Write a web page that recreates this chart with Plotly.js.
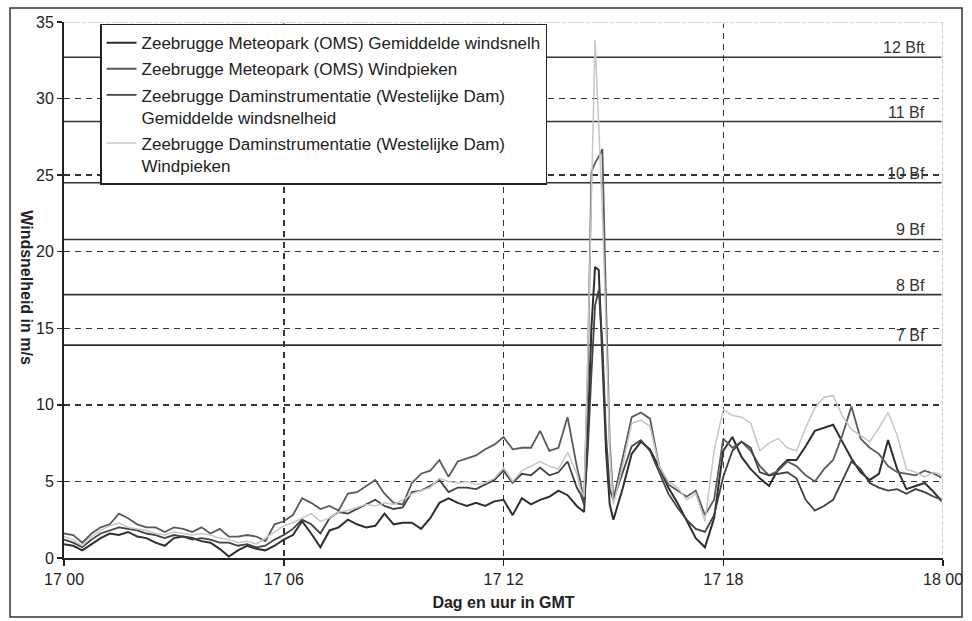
<!DOCTYPE html>
<html>
<head>
<meta charset="utf-8">
<script src="https://cdn.plot.ly/plotly-3.0.1.min.js"></script>
<style>
html,body{margin:0;padding:0;background:#fff;}
#chart{width:972px;height:621px;}
</style>
</head>
<body>
<div id="chart"></div>
<script>
// time in hours after 17 00 GMT
var hours = [0,0.25,0.5,0.75,1,1.25,1.5,1.75,2,2.25,2.5,2.75,3,3.25,3.5,3.75,4,4.25,4.5,4.75,5,5.25,5.5,5.75,6,6.25,6.5,6.75,7,7.25,7.5,7.75,8,8.25,8.5,8.75,9,9.25,9.5,9.75,10,10.25,10.5,10.75,11,11.25,11.5,11.75,12,12.25,12.5,12.75,13,13.25,13.5,13.75,14,
14.1,14.2,14.3,14.4,14.5,14.6,14.7,14.8,14.9,15,
15.25,15.5,15.75,16,16.25,16.5,16.75,17,17.25,17.5,17.75,18,18.25,18.5,18.75,19,19.25,19.5,19.75,20,20.25,20.5,20.75,21,21.25,21.5,21.75,22,22.25,22.5,22.75,23,23.25,23.5,23.75,24];

var meteoMean = [0.9,0.8,0.5,0.9,1.3,1.6,1.5,1.7,1.4,1.3,1.0,0.8,1.3,1.4,1.3,1.1,1.0,0.6,0.1,0.5,0.8,0.6,0.5,0.8,1.2,1.5,2.4,1.6,0.7,1.8,2.0,2.5,2.2,2.0,2.1,2.9,2.2,2.3,2.3,1.9,2.6,3.6,3.9,3.6,3.4,3.6,3.4,3.7,3.8,2.8,3.9,3.5,3.8,4.0,4.4,4.1,3.4,
3.2,3.0,8,15,19.0,18.8,13,7,3.5,2.5,
4.5,6.8,7.6,7.1,5.9,4.6,3.6,2.5,1.3,0.7,2.6,7.0,7.9,6.6,5.8,5.2,4.7,5.8,6.4,6.4,7.3,8.3,8.5,8.7,7.6,6.5,5.6,5.1,5.5,7.7,5.8,4.5,4.7,4.9,4.3,3.6];

var meteoPeak = [1.6,1.5,1.0,1.6,2.0,2.2,2.9,2.6,2.2,2.0,2.0,1.7,2.0,1.9,1.7,2.0,1.6,1.9,1.4,1.4,1.5,1.4,1.1,2.2,2.4,2.8,3.9,3.6,3.2,3.4,3.1,4.2,4.3,4.7,5.1,4.2,3.6,3.5,4.9,5.5,5.7,6.4,5.3,6.3,6.5,6.7,7.1,7.4,7.9,7.1,7.2,7.2,8.3,7.0,7.2,9.2,6.0,
5.0,3.6,12,25.2,25.8,26.2,26.7,16.5,7.5,3.8,
6.5,9.2,9.5,9.1,6.0,4.8,4.4,4.0,4.4,2.8,3.8,7.8,7.2,7.6,7.0,6.0,5.4,5.7,6.3,6.0,5.4,5.0,5.8,6.4,8.0,9.9,7.8,7.2,6.8,6.0,5.6,5.5,5.4,5.7,5.5,5.2];

var damMean = [1.2,1.0,0.7,1.2,1.6,1.8,2.0,1.9,1.8,1.6,1.5,1.3,1.5,1.4,1.2,1.3,1.2,1.0,1.0,0.8,0.9,0.7,0.8,1.2,1.5,1.9,2.5,2.2,1.6,2.6,3.0,2.9,3.2,3.5,3.8,3.4,3.2,3.3,4.3,4.4,4.7,5.1,4.3,4.6,4.6,4.5,4.8,5.1,5.7,4.9,5.5,5.4,5.9,5.4,5.6,6.3,4.6,
4.2,3.5,7,12,16.5,17.5,14,8,4.5,3.8,
5.5,7.3,7.7,7.0,5.6,4.2,3.3,2.5,1.9,1.7,2.8,5.3,7.0,7.6,7.2,5.6,5.4,5.5,5.6,5.2,3.8,3.1,3.4,3.8,5.0,6.3,5.8,4.9,4.6,4.4,4.5,4.2,4.5,4.3,4.0,3.8];

var damPeak = [1.4,1.2,0.8,1.4,1.8,2.1,2.3,2.0,1.9,1.8,1.6,1.5,1.7,1.6,1.5,1.6,1.5,1.3,1.2,1.0,1.1,0.9,1.3,1.7,2.1,2.3,2.6,2.9,2.4,2.6,3.0,3.1,3.3,3.5,3.4,3.6,3.5,3.8,4.2,4.4,4.6,5.2,5.0,4.9,5.0,4.8,4.9,5.2,5.9,5.0,5.7,6.0,6.3,6.0,5.8,6.9,5.5,
4.5,4.0,13.2,23.5,33.8,28.2,22.5,15,7,3.5,
6.0,8.8,9.0,8.6,6.0,5.0,4.6,3.8,4.2,2.4,7.0,9.7,9.3,9.2,8.8,7.0,7.5,7.8,7.2,7.0,8.5,9.8,10.5,10.6,9.3,8.4,8.0,7.6,8.5,9.5,8.0,5.8,5.6,5.3,5.6,5.4];

var seriesNames = [
  "Zeebrugge Meteopark (OMS) Gemiddelde windsnelh",
  "Zeebrugge Meteopark (OMS) Windpieken",
  "Zeebrugge Daminstrumentatie (Westelijke Dam)<br>Gemiddelde windsnelheid",
  "Zeebrugge Daminstrumentatie (Westelijke Dam)<br>Windpieken"
];

var tickHours = [0,6,12,18,24];
var tickLabels = ["17 00","17 06","17 12","17 18","18 00"];

var beaufortSpeeds = [13.9,17.2,20.8,24.5,28.5,32.7];
var beaufortLabels = ["7 Bf","8 Bf","9 Bf","10 Bf","11 Bf","12 Bft"];

var colors = ["#2e2e2e","#5a5a5a","#424242","#c6c6c6"];
var widths = [2,1.8,1.8,1.5];
var values = [meteoMean, meteoPeak, damMean, damPeak];

var traces = values.map(function(v,i){
  return {
    x: hours, y: v, type: "scatter", mode: "lines",
    name: seriesNames[i], legendgroup: "g"+i,
    line: {color: colors[i], width: widths[i]}
  };
});

var shapes = [];
var annotations = [];
beaufortSpeeds.forEach(function(s,i){
  shapes.push({type:"line", xref:"x", yref:"y", x0:0, x1:24, y0:s, y1:s,
    line:{color:"#333", width:1.6}, layer:"below"});
  annotations.push({x:23.55, y:s, xref:"x", yref:"y", text:beaufortLabels[i],
    showarrow:false, xanchor:"right", yanchor:"bottom", yshift:-1,
    font:{size:16, color:"#333"}});
});
// top and right border (light dotted)
shapes.push({type:"line", xref:"x", yref:"y", x0:0, x1:24, y0:35, y1:35, line:{color:"#fff", width:3}, layer:"above"});
shapes.push({type:"line", xref:"x", yref:"y", x0:24, x1:24, y0:0.2, y1:35, line:{color:"#fff", width:3}, layer:"above"});
shapes.push({type:"line", xref:"x", yref:"y", x0:0, x1:24, y0:35, y1:35, line:{color:"#aaa", width:1.2, dash:"4px,2px"}, layer:"above"});
shapes.push({type:"line", xref:"x", yref:"y", x0:24, x1:24, y0:0.2, y1:35, line:{color:"#aaa", width:1.2, dash:"4px,2px"}, layer:"above"});
// outer frame
shapes.push({type:"rect", xref:"paper", yref:"paper", x0:-0.0614, x1:1.0216, y0:-0.110, y1:1.026,
  line:{color:"#333", width:1.5}, fillcolor:"rgba(0,0,0,0)", layer:"above"});

annotations.push({xref:"paper", yref:"paper", x:-0.042, y:0.505, xanchor:"center", yanchor:"middle",
  text:"<b>Windsnelheid in m/s</b>",
  textangle:90, showarrow:false, font:{size:16, color:"#222"}});

var layout = {
  width: 972, height: 621,
  margin: {l:64, r:29, t:22, b:63},
  paper_bgcolor: "#fff", plot_bgcolor: "#fff",
  font: {family: "Liberation Sans, Arial, sans-serif", size: 16, color: "#222"},
  showlegend: true,
  legend: {x:0.041, y:0.997, xanchor:"left", yanchor:"top", bgcolor:"#fff",
    bordercolor:"#222", borderwidth:1.5, font:{size:17, color:"#222"},
    traceorder:"grouped", tracegroupgap:1, valign:"top"},
  xaxis: {range:[0,24], tickvals:tickHours, ticktext:tickLabels,
    showline:true, linecolor:"#222", linewidth:2, ticks:"outside", ticklen:6, tickwidth:1.5, tickcolor:"#222",
    showgrid:true, gridcolor:"#333", gridwidth:1.5, griddash:"6px,5px", zeroline:false,
    title:{text:"<b>Dag en uur in GMT</b>", font:{size:16, color:"#222"}, standoff:10},
    tickfont:{size:16}},
  yaxis: {range:[0,35], tickvals:[0,5,10,15,20,25,30,35],
    showline:true, linecolor:"#222", linewidth:2, ticks:"outside", ticklen:5, tickwidth:1.5, tickcolor:"#222",
    showgrid:true, gridcolor:"#333", gridwidth:1.5, griddash:"6px,5px", zeroline:false,
    tickfont:{size:16}},
  shapes: shapes,
  annotations: annotations
};

Plotly.newPlot("chart", traces, layout, {displayModeBar:false, staticPlot:true});
</script>
</body>
</html>
